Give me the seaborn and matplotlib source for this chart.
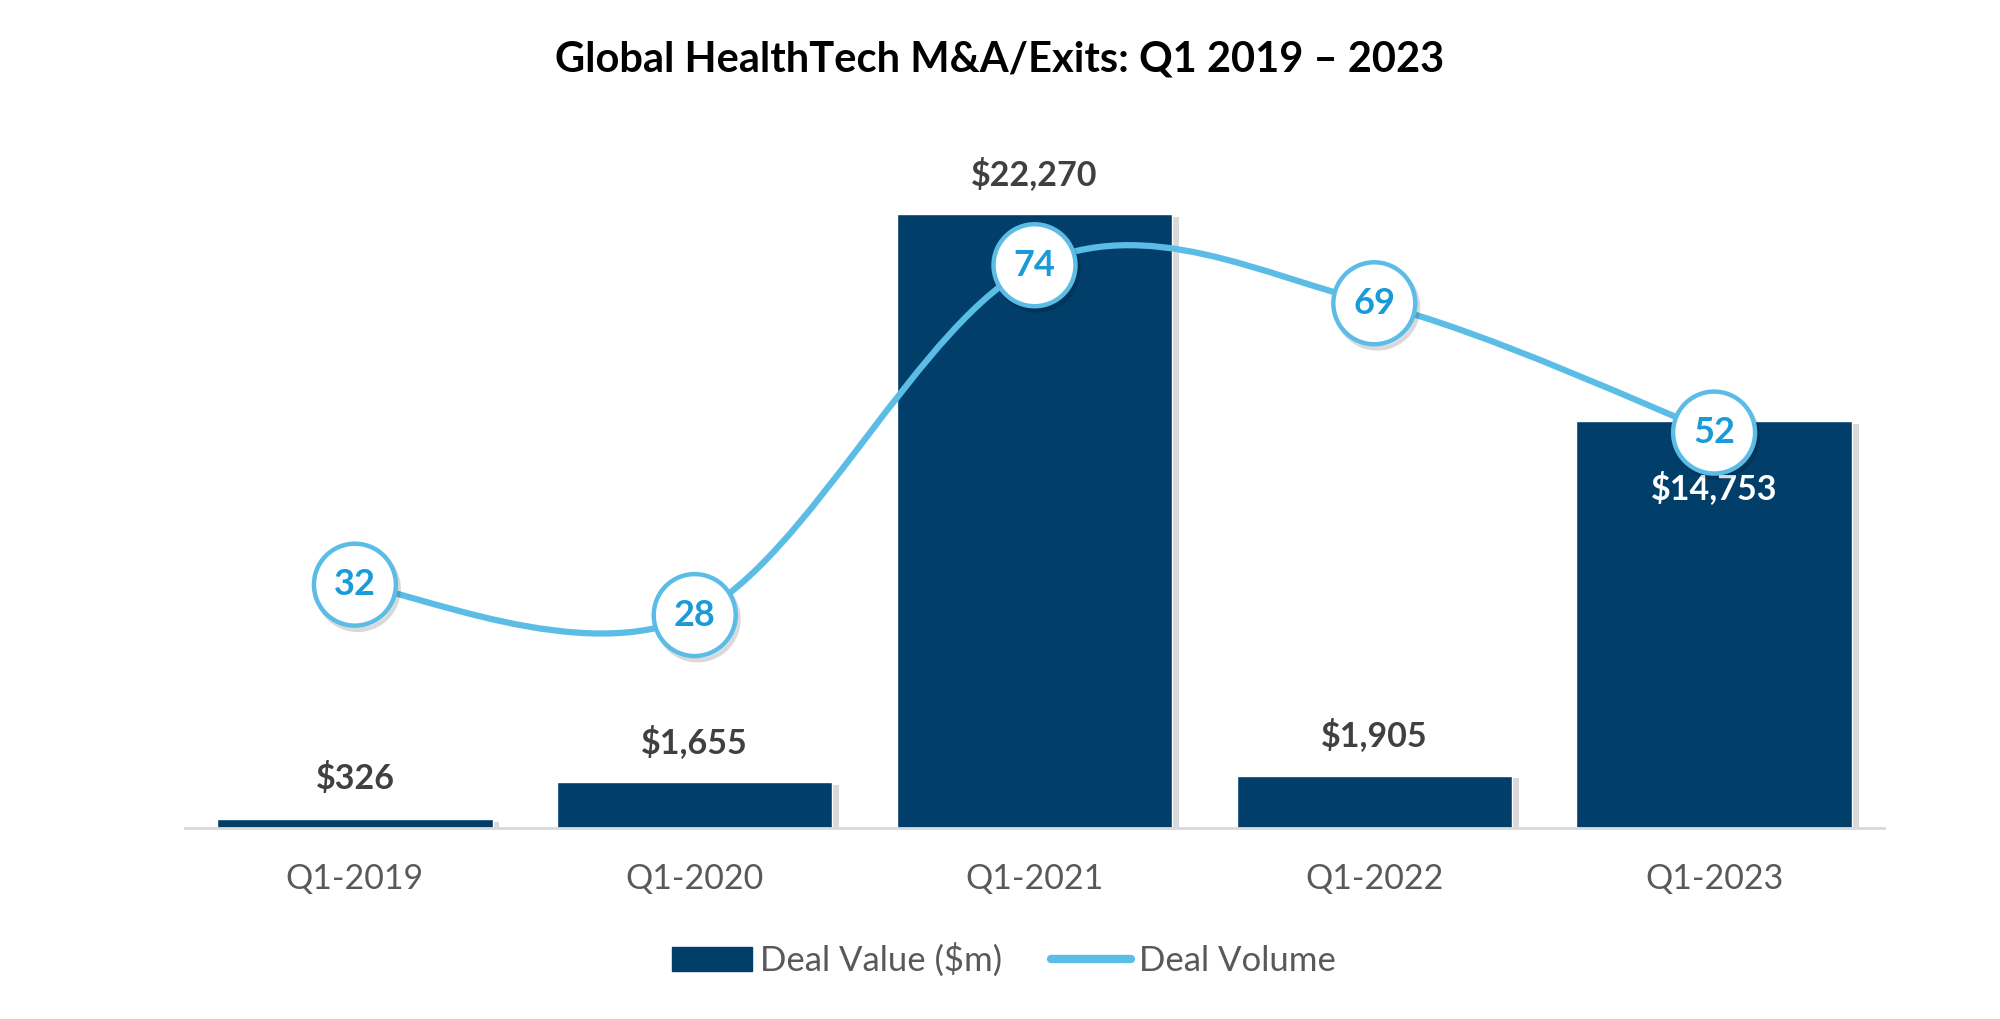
import numpy as np
import matplotlib
matplotlib.use("Agg")
import matplotlib.pyplot as plt
import matplotlib.patheffects as pe
from matplotlib.path import Path
from matplotlib.patches import PathPatch, Patch
from matplotlib.lines import Line2D
import seaborn as sns

# data
quarters = ["Q1-2019", "Q1-2020", "Q1-2021", "Q1-2022", "Q1-2023"]
deal_value = [326, 1655, 22270, 1905, 14753]
deal_volume = [32, 28, 74, 69, 52]
value_labels = ["$326", "$1,655", "$22,270", "$1,905", "$14,753"]

NAVY = "#023E6A"
LIGHT_BLUE = "#5BBDE6"
LABEL_BLUE = "#1A9AD6"

sns.set_style("white")
plt.rcParams["font.family"] = ["Lato", "DejaVu Sans"]

fig = plt.figure(figsize=(20, 10.19), dpi=100)
ax = fig.add_axes([0.0925, 0.1874, 0.8495, 0.6762])

sns.barplot(x=quarters, y=deal_value, color=NAVY, width=0.81, saturation=1,
            ax=ax, zorder=2)
for bar in ax.patches:
    bar.set_path_effects([pe.withSimplePatchShadow(offset=(5, -2), shadow_rgbFace="k",
                                                   alpha=0.15)])

ax.set_xlim(-0.5, 4.5)
ax.set_ylim(0, 25000)
ax.set_xlabel("")
ax.set_ylabel("")
ax.set_yticks([])
for s in ["top", "left", "right"]:
    ax.spines[s].set_visible(False)
ax.spines["bottom"].set_color("#D9D9D9")
ax.spines["bottom"].set_linewidth(2)
ax.tick_params(axis="x", length=0, pad=25, labelsize=24.5, labelcolor="#595959")

# bar value labels
for i, (v, lab) in enumerate(zip(deal_value, value_labels)):
    if i == 4:
        ax.annotate(lab, (i, v), xytext=(0, -48), textcoords="offset points",
                    ha="center", va="center", fontsize=24.5, fontweight="bold",
                    color="white", zorder=5)
    else:
        ax.annotate(lab, (i, v), xytext=(0, 29), textcoords="offset points",
                    ha="center", va="center", fontsize=24.5, fontweight="bold",
                    color="#404040")

# secondary axis for deal volume
ax2 = ax.twinx()
ax2.set_ylim(0, 90.6)
ax2.set_yticks([])
for s in ax2.spines.values():
    s.set_visible(False)

# smoothed line (cubic bezier through points, Excel style)
pts = np.column_stack([np.arange(len(deal_volume)), deal_volume]).astype(float)
verts = [pts[0]]
codes = [Path.MOVETO]
n = len(pts)
for i in range(n - 1):
    p0 = pts[max(i - 1, 0)]
    p1 = pts[i]
    p2 = pts[i + 1]
    p3 = pts[min(i + 2, n - 1)]
    c1 = p1 + (p2 - p0) / 6
    c2 = p2 - (p3 - p1) / 6
    verts += [c1, c2, p2]
    codes += [Path.CURVE4] * 3
curve = PathPatch(Path(verts, codes), facecolor="none", edgecolor=LIGHT_BLUE,
                  lw=4.5, capstyle="round", zorder=3)
ax2.add_patch(curve)

ax2.plot(range(n), deal_volume, linestyle="none", marker="o", markersize=59,
         markerfacecolor="white", markeredgecolor=LIGHT_BLUE, markeredgewidth=3.2,
         zorder=4,
         path_effects=[pe.SimpleLineShadow(offset=(2, -3), alpha=0.15), pe.Normal()])
for i, v in enumerate(deal_volume):
    ax2.text(i, v, str(v), ha="center", va="center", fontsize=26,
             fontweight="bold", color=LABEL_BLUE, zorder=5)

fig.text(0.5, 0.942, "Global HealthTech M&A/Exits: Q1 2019 \u2013 2023",
         ha="center", va="center", fontsize=30, fontweight="bold", color="black")

handles = [Patch(facecolor=NAVY, edgecolor=NAVY),
           Line2D([0], [0], color=LIGHT_BLUE, lw=6, solid_capstyle="round")]
fig.legend(handles, ["Deal Value ($m)", "Deal Volume"], loc="center",
           bbox_to_anchor=(0.502, 0.058), ncol=2, frameon=False, fontsize=25,
           handlelength=2.3, handletextpad=0.25, columnspacing=1.4,
           labelcolor="#595959")

fig.savefig("out.png", dpi=100, facecolor="white")
